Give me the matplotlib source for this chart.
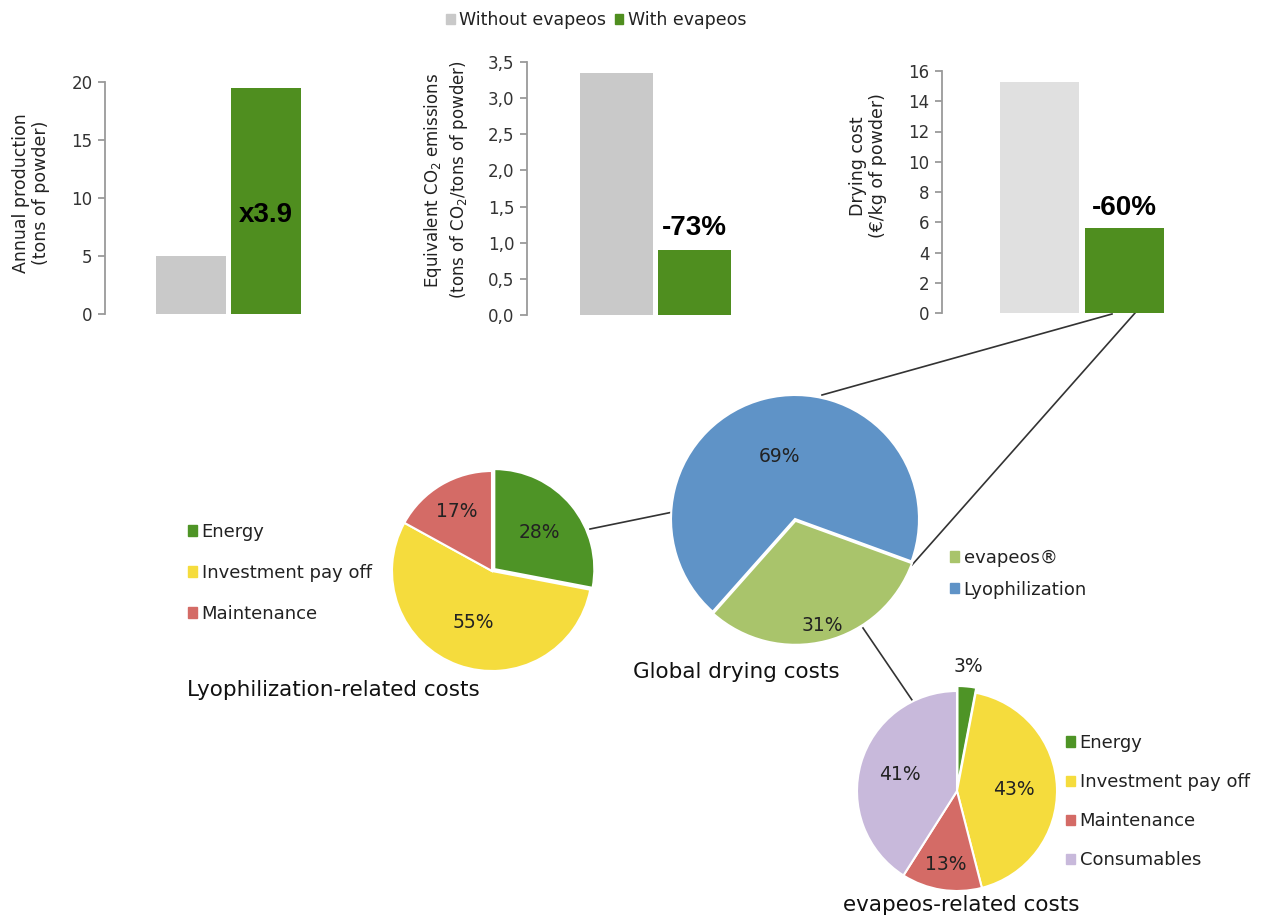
import matplotlib
matplotlib.use("Agg")
import matplotlib.pyplot as plt
import numpy as np
from matplotlib.patches import Patch
from matplotlib.lines import Line2D

plt.rcParams['font.family'] = ['DejaVu Sans']
plt.rcParams['mathtext.default'] = 'regular'

W, H = 1264, 919

# --- data ---
series_names = ["Without evapeos", "With evapeos"]

prod_values = [5.0, 19.5]
prod_ticks = [0, 5, 10, 15, 20]
prod_ticklabels = ["0", "5", "10", "15", "20"]

co2_values = [3.35, 0.9]
co2_ticks = [0.0, 0.5, 1.0, 1.5, 2.0, 2.5, 3.0, 3.5]
co2_ticklabels = ["0,0", "0,5", "1,0", "1,5", "2,0", "2,5", "3,0", "3,5"]

cost_values = [15.3, 5.6]
cost_ticks = [0, 2, 4, 6, 8, 10, 12, 14, 16]
cost_ticklabels = ["0", "2", "4", "6", "8", "10", "12", "14", "16"]

global_labels = ["evapeos®", "Lyophilization"]
global_values = [31, 69]

lyo_labels = ["Energy", "Investment pay off", "Maintenance"]
lyo_values = [28, 55, 17]

evap_labels = ["Energy", "Investment pay off", "Maintenance", "Consumables"]
evap_values = [3, 43, 13, 41]

# --- colours ---
GRAY = '#c9c9c9'
GRAY_LIGHT = '#e0e0e0'
GREEN = '#4f8e1f'
PIE_GREEN = '#4e9426'
YELLOW = '#f5dc3d'
RED = '#d46b66'
PURPLE = '#c8b9db'
BLUE = '#5f93c7'
LGREEN = '#a9c46b'

fig = plt.figure(figsize=(W / 100, H / 100), dpi=100, facecolor='white')


def px_axes(left, top, right, bottom):
    return fig.add_axes([left / W, 1 - bottom / H, (right - left) / W, (bottom - top) / H])


def bar_panel(ax, values, colors, ticks, ticklabels, ymax):
    bars = ax.bar([0, 1], values, width=0.93, color=colors, zorder=2)
    ax.set_xlim(-1.15, 1.6)
    ax.set_ylim(0, ymax)
    for s in ['top', 'right', 'bottom']:
        ax.spines[s].set_visible(False)
    ax.spines['left'].set_color('#9a9a9a')
    ax.spines['left'].set_linewidth(1.3)
    ax.set_xticks([])
    ax.set_yticks(ticks)
    ax.set_yticklabels(ticklabels)
    ax.tick_params(axis='y', direction='out', length=5, width=1.3, color='#9a9a9a',
                   labelsize=12, labelcolor='#333333', pad=4)
    ax.patch.set_alpha(0)
    return bars


# bar chart 1
ax1 = px_axes(105, 82, 105 + 2.75 * 75, 314)
bar_panel(ax1, prod_values, [GRAY, GREEN], prod_ticks, prod_ticklabels, 20)
ax1.text(1, 8.5, "x3.9", ha='center', va='center', fontsize=20, fontweight='bold',
         family='Liberation Sans', color='black')
fig.text(31 / W, 1 - 193 / H, "Annual production\n(tons of powder)", rotation=90,
         ha='center', va='center', fontsize=12.5, color='#222222', multialignment='center')

# bar chart 2
ax2 = px_axes(527, 62, 527 + 2.75 * 78, 315)
bar_panel(ax2, co2_values, [GRAY, GREEN], co2_ticks, co2_ticklabels, 3.5)
ax2.text(1, co2_values[1] + 0.12, "-73%", ha='center', va='bottom', fontsize=20,
         fontweight='bold', family='Liberation Sans', color='black')
fig.text(446 / W, 1 - 180 / H, "Equivalent CO$_2$ emissions\n(tons of CO$_2$/tons of powder)",
         rotation=90, ha='center', va='center', fontsize=12, color='#222222',
         multialignment='center')

# bar chart 3
ax3 = px_axes(942, 71, 942 + 2.75 * 85, 313)
bar_panel(ax3, cost_values, [GRAY_LIGHT, GREEN], cost_ticks, cost_ticklabels, 16)
ax3.text(1, cost_values[1] + 0.5, "-60%", ha='center', va='bottom', fontsize=20,
         fontweight='bold', family='Liberation Sans', color='black')
fig.text(868 / W, 1 - 166 / H, "Drying cost\n(€/kg of powder)", rotation=90,
         ha='center', va='center', fontsize=12.5, color='#222222', multialignment='center')

# top legend
fig.legend([Patch(color=GRAY), Patch(color=GREEN)], series_names, ncol=2,
           loc='center', bbox_to_anchor=(596 / W, 1 - 20 / H), frameon=False,
           fontsize=12.5, handlelength=0.5, handleheight=0.5, handletextpad=0.25,
           columnspacing=0.5, labelcolor='#222222')


def pie_panel(cx, cy, r, values, colors, startangle, dists, explode, fsize=13.5):
    pad = 1.12
    ax = fig.add_axes([(cx - r * pad) / W, 1 - (cy + r * pad) / H, 2 * r * pad / W, 2 * r * pad / H])
    wedges, _, autotexts = ax.pie(values, colors=colors, startangle=startangle,
                                  counterclock=False, explode=explode,
                                  autopct=lambda p: f"{p:.0f}%",
                                  wedgeprops=dict(edgecolor='white', linewidth=1.5),
                                  textprops=dict(fontsize=fsize, color='#222222'))
    for w, t, d, e in zip(wedges, autotexts, dists, explode):
        ang = np.deg2rad((w.theta1 + w.theta2) / 2)
        t.set_position(((d + e) * np.cos(ang), (d + e) * np.sin(ang)))
    ax.set_xlim(-pad, pad)
    ax.set_ylim(-pad, pad)
    ax.set_aspect('equal')
    return ax


# global pie
pie_panel(795, 519, 124, global_values, [LGREEN, BLUE], -20, [0.87, 0.52], [0.015, 0])
fig.text(633 / W, 1 - 672 / H, "Global drying costs", ha='left', va='center',
         fontsize=15.5, color='#111111')
fig.legend([Patch(color=LGREEN), Patch(color=BLUE)], global_labels, loc='upper left',
           bbox_to_anchor=(950 / W, 1 - 549 / H), frameon=False, fontsize=13,
           handlelength=0.5, handleheight=0.5, handletextpad=0.25, labelspacing=0.75,
           borderpad=0, borderaxespad=0, labelcolor='#222222')

# lyophilization pie
pie_panel(492, 571, 100, lyo_values, [PIE_GREEN, YELLOW, RED], 90, [0.58, 0.55, 0.69],
          [0.03, 0, 0])
fig.text(187 / W, 1 - 690 / H, "Lyophilization-related costs", ha='left', va='center',
         fontsize=15.5, color='#111111')
fig.legend([Patch(color=c) for c in [PIE_GREEN, YELLOW, RED]], lyo_labels, loc='upper left',
           bbox_to_anchor=(188 / W, 1 - 523 / H), frameon=False, fontsize=13,
           handlelength=0.5, handleheight=0.5, handletextpad=0.25, labelspacing=1.27,
           borderpad=0, borderaxespad=0, labelcolor='#222222')

# evapeos pie
pie_panel(957, 791, 100, evap_values, [PIE_GREEN, YELLOW, RED, PURPLE], 90,
          [1.2, 0.57, 0.74, 0.59], [0.05, 0, 0, 0])
fig.text(843 / W, 1 - 905 / H, "evapeos-related costs", ha='left', va='center',
         fontsize=15.5, color='#111111')
fig.legend([Patch(color=c) for c in [PIE_GREEN, YELLOW, RED, PURPLE]], evap_labels,
           loc='upper left', bbox_to_anchor=(1066 / W, 1 - 734 / H), frameon=False,
           fontsize=13, handlelength=0.5, handleheight=0.5, handletextpad=0.25,
           labelspacing=1.17, borderpad=0, borderaxespad=0, labelcolor='#222222')

# connector lines
connectors = [
    [(1112, 314), (822, 395)],
    [(1135, 313), (912, 565)],
    [(590, 529), (673, 512)],
    [(863, 628), (912, 700)],
]
for (x0, y0), (x1, y1) in connectors:
    fig.add_artist(Line2D([x0 / W, x1 / W], [1 - y0 / H, 1 - y1 / H],
                          transform=fig.transFigure, color='#333333', lw=1.2, zorder=0))

fig.savefig("out.png", dpi=100, facecolor='white')
